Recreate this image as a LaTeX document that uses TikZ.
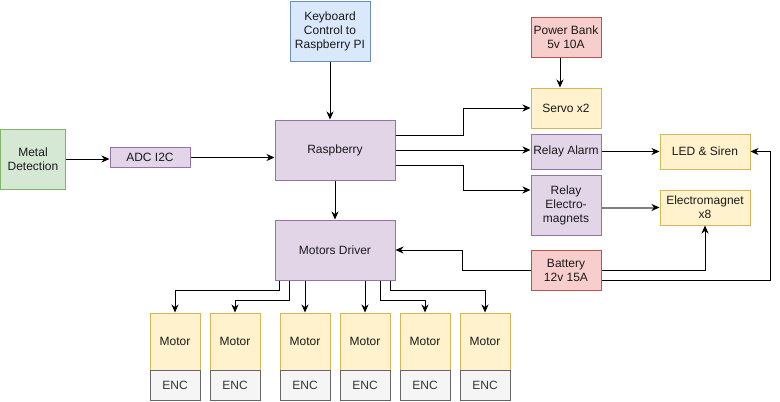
\documentclass[tikz,border=0pt]{standalone}
\usepackage{fontspec}
\setmainfont{Liberation Sans}
\usetikzlibrary{arrows.meta}
\definecolor{purF}{HTML}{E1D5E7}\definecolor{purD}{HTML}{9673A6}
\definecolor{grnF}{HTML}{D5E8D4}\definecolor{grnD}{HTML}{82B366}
\definecolor{bluF}{HTML}{DAE8FC}\definecolor{bluD}{HTML}{6C8EBF}
\definecolor{redF}{HTML}{F8CECC}\definecolor{redD}{HTML}{B85450}
\definecolor{yelF}{HTML}{FFF2CC}\definecolor{yelD}{HTML}{D6B656}
\definecolor{gryF}{HTML}{F5F5F5}\definecolor{gryD}{HTML}{666666}
\definecolor{txt}{HTML}{1A1A1A}\definecolor{enctxt}{HTML}{333333}
\definecolor{lnG}{HTML}{808080}
\begin{document}
\begin{tikzpicture}[x=1pt,y=-1pt,
  box/.style={rectangle,draw,line width=1pt,inner sep=0pt,align=center,text=txt,
    font=\fontsize{12}{14}\selectfont},
  pur/.style={box,fill=purF,draw=purD},
  grn/.style={box,fill=grnF,draw=grnD},
  blu/.style={box,fill=bluF,draw=bluD},
  red/.style={box,fill=redF,draw=redD},
  yel/.style={box,fill=yelF,draw=yelD},
  gry/.style={box,fill=gryF,draw=gryD,text=enctxt},
  arr/.style={draw=black,line width=1pt,-{Stealth[length=8pt,width=7pt,inset=2.5pt]}},
  garr/.style={draw=lnG,line width=2pt,-{Stealth[length=8pt,width=7pt,inset=2.5pt,color=black]}}
]
\useasboundingbox (0,0) rectangle (780,402);
% nodes
\node[blu,minimum width=80pt,minimum height=60pt] (kb) at (330,31) {Keyboard\\Control to\\Raspberry PI};
\node[grn,minimum width=65pt,minimum height=60pt] (md) at (33,159) {Metal\\Detection};
\node[pur,minimum width=80pt,minimum height=20pt] (adc) at (150,157.5) {ADC I2C};
\node[pur,minimum width=120pt,minimum height=60pt] (rasp) at (335,150) {Raspberry};
\node[red,minimum width=70pt,minimum height=40pt] (pb) at (566,37) {Power Bank\\5v 10A};
\node[yel,minimum width=70pt,minimum height=40pt] (servo) at (566,108) {Servo x2};
\node[pur,minimum width=70pt,minimum height=35pt] (ra) at (566,151.5) {Relay Alarm};
\node[pur,minimum width=70pt,minimum height=60pt] (re) at (566,205) {Relay\\Electro-\\magnets};
\node[red,minimum width=70pt,minimum height=40pt] (bat) at (566,270) {Battery\\12v 15A};
\node[yel,minimum width=90pt,minimum height=35pt] (led) at (705,151.5) {LED \& Siren};
\node[yel,minimum width=90pt,minimum height=35pt] (em) at (705,207.5) {Electromagnet\\x8};
\node[pur,minimum width=120pt,minimum height=60pt] (drv) at (335,250) {Motors Driver};
\foreach \i/\xx in {1/175,2/235,3/305,4/365,5/425,6/485}{
  \node[yel,minimum width=50pt,minimum height=57pt] (m\i) at (\xx,341.5) {Motor};
  \node[gry,minimum width=50pt,minimum height=30pt] (e\i) at (\xx,385) {ENC};
}
% connectors
\draw[arr] (kb.south) -- (kb.south |- rasp.north);
\draw[arr] (md.east) -- (md.east -| adc.west);
\draw[arr] (adc.east) -- (adc.east -| rasp.west);
\draw[arr] ([yshift=15pt]rasp.east) -- ++(68,0) |- (servo.west);
\draw[arr] (rasp.east) -- (rasp.east -| ra.west);
\draw[arr] ([yshift=-15pt]rasp.east) -- ++(68,0) |- ([yshift=15pt]re.west);
\draw[arr] ([xshift=-6pt]pb.south) -- ([xshift=-6pt]servo.north);
\draw[arr] (ra.east) -- (led.west);
\draw[garr] (re.east |- em.west) -- (em.west);
\draw[arr] (bat.east) -| (em.south);
\draw[arr] ([yshift=-10pt]bat.east) -| ([xshift=20pt]led.east) -- (led.east);
\draw[arr] (bat.west) -- ++(-68,0) |- (drv.east);
\draw[arr] (rasp.south) -- (drv.north);
\draw[arr] ([xshift=5pt]drv.south west) -- ++(0,10) -| (m1.north);
\draw[arr] ([xshift=15pt]drv.south west) -- ++(0,20) -| (m2.north);
\draw[arr] (m3.north |- drv.south) -- (m3.north);
\draw[arr] (m4.north |- drv.south) -- (m4.north);
\draw[arr] ([xshift=-15pt]drv.south east) -- ++(0,20) -| (m5.north);
\draw[arr] ([xshift=-5pt]drv.south east) -- ++(0,10) -| (m6.north);
\end{tikzpicture}
\end{document}
